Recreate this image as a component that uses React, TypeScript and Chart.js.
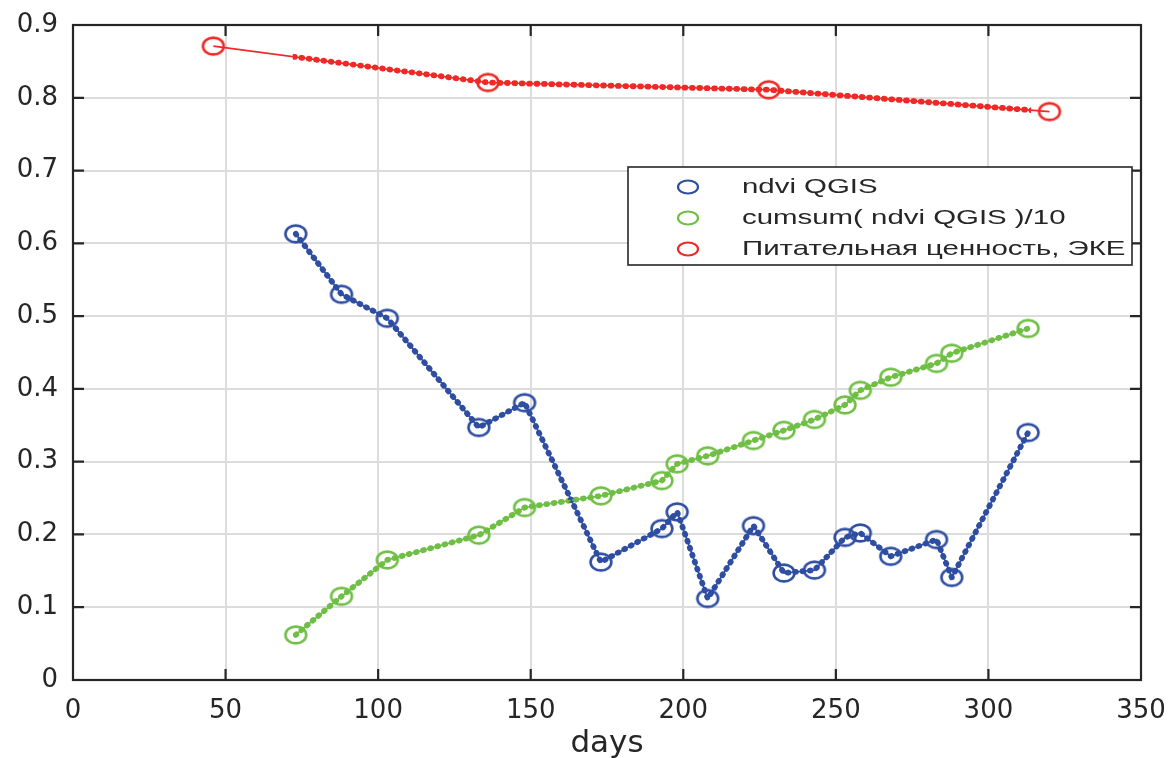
import React, { useEffect, useRef } from "react";
import { Chart, registerables } from "chart.js";

Chart.register(...registerables);

// ---- data ----
const ndviDays = [73, 88, 103, 133, 148, 173, 193, 198, 208, 223, 233, 243, 253, 258, 268, 283, 288, 313];
const ndviValues = [0.613, 0.530, 0.497, 0.347, 0.381, 0.162, 0.208, 0.231, 0.112, 0.212, 0.147, 0.151, 0.196, 0.202, 0.170, 0.193, 0.141, 0.340];
const cumsumValues = [0.062, 0.115, 0.165, 0.199, 0.237, 0.253, 0.274, 0.297, 0.308, 0.329, 0.343, 0.358, 0.378, 0.398, 0.416, 0.435, 0.449, 0.483];
const feedDays = [46, 136, 228, 320];
const feedValues = [0.871, 0.821, 0.811, 0.781];

const seriesLabels = ["ndvi QGIS", "cumsum( ndvi QGIS )/10", "Питательная ценность, ЭКЕ"];
const seriesColors = ["#2F4EA2", "#6FBF45", "#EE2A26"];
const xAxisTitle = "days";

const FONT = '"DejaVu Sans", "Liberation Sans", sans-serif';
const LEGEND_FONT = '"Liberation Sans", "DejaVu Sans", sans-serif';
const AXIS_COLOR = "#262626";

function makeRing(color: string, w: number, h: number, rx: number, ry: number, lw: number) {
  const c = document.createElement("canvas");
  c.width = w;
  c.height = h;
  const ctx = c.getContext("2d")!;
  ctx.strokeStyle = color;
  ctx.lineWidth = lw;
  ctx.beginPath();
  ctx.ellipse(w / 2, h / 2, rx, ry, 0, 0, Math.PI * 2);
  ctx.stroke();
  return c;
}

const toPoints = (xs: number[], ys: number[]) => xs.map((x, i) => ({ x, y: ys[i] }));

export default function App() {
  const canvasRef = useRef<HTMLCanvasElement | null>(null);

  useEffect(() => {
    document.body.style.margin = "0";
    const canvas = canvasRef.current;
    if (!canvas) return;

    const rings = seriesColors.map((c) => makeRing(c, 28, 24, 10.4, 8.4, 2.6));
    const series = [
      toPoints(ndviDays, ndviValues),
      toPoints(ndviDays, cumsumValues),
      toPoints(feedDays, feedValues),
    ];
    const dotRange = [ndviDays[0], ndviDays[ndviDays.length - 1]];

    const mainSets = series.map((data, i) => ({
      label: seriesLabels[i],
      data,
      borderColor: seriesColors[i],
      backgroundColor: "transparent",
      borderWidth: 1.7,
      pointStyle: rings[i] as any,
      pointRadius: 10,
      showLine: true,
      tension: 0,
      isMain: true,
    }));
    const dotSets = series.map((data, i) => ({
      label: seriesLabels[i] + " dots",
      data,
      borderColor: seriesColors[i],
      backgroundColor: "transparent",
      borderWidth: 5.8,
      borderDash: [0.8, 6.6],
      borderCapStyle: "round" as const,
      pointRadius: 0,
      showLine: true,
      tension: 0,
      dotRange,
    }));

    const clipPlugin = {
      id: "dotClip",
      beforeDatasetDraw(chart: any, args: any) {
        const ds = chart.data.datasets[args.index];
        if (!ds.dotRange) return;
        const xs = chart.scales.x;
        const a = chart.chartArea;
        const x0 = xs.getPixelForValue(ds.dotRange[0]) - 3;
        const x1 = xs.getPixelForValue(ds.dotRange[1]) + 3;
        chart.ctx.save();
        chart.ctx.beginPath();
        chart.ctx.rect(x0, a.top - 5, x1 - x0, a.bottom - a.top + 10);
        chart.ctx.clip();
      },
      afterDatasetDraw(chart: any, args: any) {
        const ds = chart.data.datasets[args.index];
        if (!ds.dotRange) return;
        chart.ctx.restore();
      },
    };

    const boxPlugin = {
      id: "matlabBox",
      afterDatasetsDraw(chart: any) {
        const { ctx, chartArea: a, scales } = chart;
        ctx.save();
        ctx.strokeStyle = AXIS_COLOR;
        ctx.lineWidth = 2.2;
        ctx.strokeRect(a.left, a.top, a.right - a.left, a.bottom - a.top);
        const tl = 11;
        ctx.beginPath();
        scales.x.ticks.forEach((t: any) => {
          const px = scales.x.getPixelForValue(t.value);
          if (px <= a.left + 1 || px >= a.right - 1) return;
          ctx.moveTo(px, a.bottom);
          ctx.lineTo(px, a.bottom - tl);
          ctx.moveTo(px, a.top);
          ctx.lineTo(px, a.top + tl);
        });
        scales.y.ticks.forEach((t: any) => {
          const py = scales.y.getPixelForValue(t.value);
          if (py <= a.top + 1 || py >= a.bottom - 1) return;
          ctx.moveTo(a.left, py);
          ctx.lineTo(a.left + tl, py);
          ctx.moveTo(a.right, py);
          ctx.lineTo(a.right - tl, py);
        });
        ctx.stroke();
        ctx.restore();
      },
    };

    const legendPlugin = {
      id: "matlabLegend",
      afterDraw(chart: any) {
        const { ctx, chartArea: a } = chart;
        const boxW = 504;
        const boxH = 98;
        const bx = a.right - 9 - boxW;
        const by = 167;
        ctx.save();
        ctx.fillStyle = "#ffffff";
        ctx.fillRect(bx, by, boxW, boxH);
        ctx.strokeStyle = AXIS_COLOR;
        ctx.lineWidth = 1.6;
        ctx.strokeRect(bx, by, boxW, boxH);
        const items = chart.data.datasets.filter((d: any) => d.isMain);
        items.forEach((d: any, i: number) => {
          const cy = by + 20 + i * 31;
          ctx.strokeStyle = d.borderColor;
          ctx.lineWidth = 2.2;
          ctx.beginPath();
          ctx.ellipse(bx + 60, cy, 10, 6.5, 0, 0, Math.PI * 2);
          ctx.stroke();
          ctx.fillStyle = AXIS_COLOR;
          ctx.font = `21px ${LEGEND_FONT}`;
          ctx.textAlign = "left";
          ctx.textBaseline = "middle";
          // reference text is horizontally widened
          ctx.save();
          ctx.translate(bx + 114, cy);
          ctx.scale(1.4, 1);
          ctx.fillText(d.label, 0, 0);
          ctx.restore();
        });
        ctx.restore();
      },
    };

    const chart = new Chart(canvas, {
      type: "line",
      data: { datasets: [...mainSets, ...dotSets] as any },
      options: {
        animation: false,
        responsive: false,
        devicePixelRatio: 1,
        layout: { padding: { top: 25, right: 30, left: 0, bottom: 0 } },
        plugins: { legend: { display: false }, tooltip: { enabled: false } },
        scales: {
          x: {
            type: "linear",
            min: 0,
            max: 350,
            ticks: { stepSize: 50, color: AXIS_COLOR, font: { family: FONT, size: 26 }, padding: 16, maxRotation: 0 },
            grid: { color: "#DCDCDC", lineWidth: 2, drawTicks: false },
            border: { display: false },
            title: {
              display: true,
              text: xAxisTitle,
              color: AXIS_COLOR,
              font: { family: FONT, size: 31, lineHeight: 0.9 },
              padding: { top: 0, bottom: 0 },
            },
            afterFit: (s: any) => {
              s.height = 78;
              s.paddingLeft = 0;
              s.paddingRight = 0;
            },
          },
          y: {
            type: "linear",
            min: 0,
            max: 0.9,
            ticks: {
              stepSize: 0.1,
              color: AXIS_COLOR,
              font: { family: FONT, size: 26 },
              padding: 15,
              callback: (v: any) => String(Number(Number(v).toFixed(1))),
            },
            grid: { color: "#DCDCDC", lineWidth: 2, drawTicks: false },
            border: { display: false },
            afterFit: (s: any) => {
              s.width = 73;
              s.paddingTop = 0;
              s.paddingBottom = 0;
            },
          },
        },
      },
      plugins: [clipPlugin, boxPlugin, legendPlugin],
    });

    return () => chart.destroy();
  }, []);

  return (
    <div style={{ position: "absolute", left: 0, top: 0, width: 1171, height: 758, background: "#fff" }}>
      <canvas ref={canvasRef} width={1171} height={758} style={{ display: "block" }} />
    </div>
  );
}
